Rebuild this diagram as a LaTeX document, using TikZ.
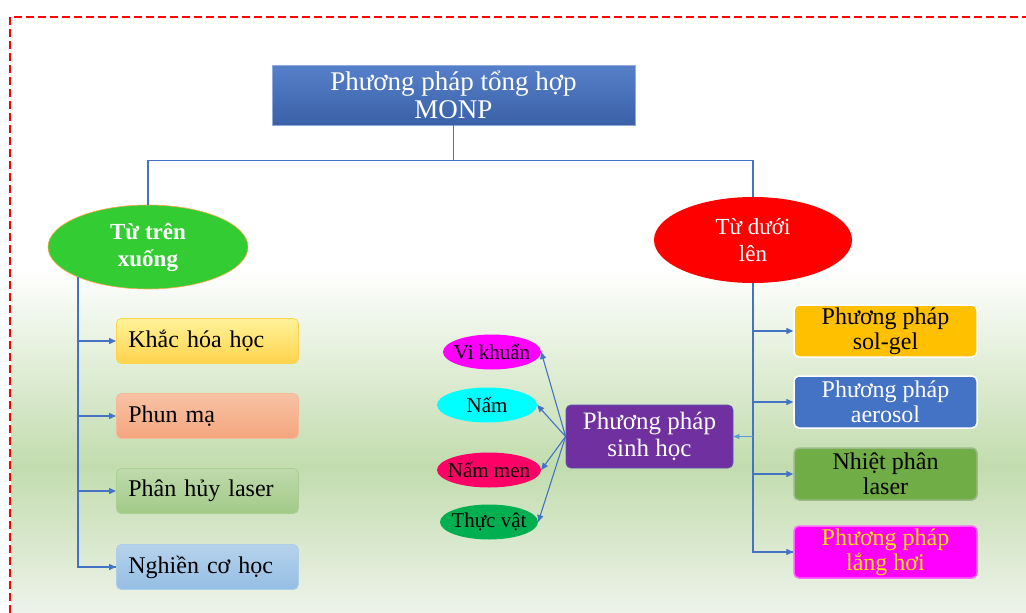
\documentclass[tikz,border=0pt]{standalone}
\usepackage{fontspec}
\setmainfont{Liberation Serif}
\usetikzlibrary{arrows.meta,positioning,shapes.geometric}
\definecolor{lanh}{RGB}{68,114,196}
\definecolor{lanhnhat}{RGB}{91,155,213}
\definecolor{xanhnen}{RGB}{194,220,174}
\definecolor{xanhday}{RGB}{238,243,234}
\definecolor{vang}{RGB}{255,192,0}
\definecolor{tim}{RGB}{112,48,160}
\definecolor{la}{RGB}{112,173,71}
\definecolor{xanhla}{RGB}{51,204,51}
\definecolor{hong}{RGB}{255,0,255}
\definecolor{lam}{RGB}{0,255,255}
\definecolor{do}{RGB}{255,0,102}
\definecolor{reu}{RGB}{0,176,80}
\definecolor{vangchu}{RGB}{255,230,0}
\definecolor{camtren}{RGB}{248,194,164}
\definecolor{camduoi}{RGB}{244,166,126}
\tikzset{
  ln/.style={draw=lanh, line width=1.4pt},
  mui/.style={ln, -{Triangle[length=7pt, width=6pt]}},
  muinho/.style={draw=lanhnhat, line width=0.8pt, -{Triangle[length=6pt, width=5pt]}},
  hop/.style={rectangle, rounded corners=5pt, align=center, inner sep=2pt,
    font=\fontsize{24}{25}\selectfont},
  hoptrai/.style={hop, anchor=west, text width=158pt, inner xsep=12pt,
    minimum height=45pt, align=left, line width=0.8pt},
  hopphai/.style={hop, minimum width=183pt, minimum height=52pt,
    draw=white, line width=1.5pt},
  elip/.style={ellipse, inner sep=0pt, align=center},
  elipnho/.style={elip, inner xsep=-8pt, minimum height=35pt, font=\fontsize{21}{22}\selectfont},
}
\begin{document}
\begin{tikzpicture}[x=1pt, y=-1pt]
  \useasboundingbox (0,0) rectangle (1026,613);
  % nen
  \shade[top color=white, bottom color=xanhnen] (11,268) rectangle (1026,466);
  \shade[top color=xanhnen, bottom color=xanhday] (11,466) rectangle (1026,613);
  \draw[red, line width=2pt, dash pattern=on 8pt off 4pt] (10,613) -- (10,17) -- (1026,17);
  % goc
  \node[rectangle, draw=lanh!60, line width=0.6pt, top color=lanh!90!white,
    bottom color=lanh!85!black, text=white, align=center, minimum width=363pt,
    minimum height=60pt, inner sep=0pt, font=\fontsize{27}{28}\selectfont]
    (monp) at (453.5,95) {Phương pháp tổng hợp\\MONP};
  \node[elip, fill=xanhla, draw=orange!70, line width=0.6pt,
    minimum width=200pt, minimum height=84pt, text=white,
    font=\bfseries\fontsize{23}{27}\selectfont] (tren) at (148,247) {Từ trên\\xuống};
  \node[elip, fill=red, minimum width=198pt, minimum height=86pt, text=white,
    font=\fontsize{23}{27}\selectfont] (duoi) at (753,240) {Từ dưới\\lên};
  \draw[ln] (monp.south) -- ++(0,35) -| (tren.north);
  \draw[ln] (monp.south) -- ++(0,35) -| (duoi.north);
  % tu tren xuong
  \node[hoptrai, draw=vang!70, top color=orange!25!yellow!40, bottom color=vang!70]
    (khac) at (116,341) {Khắc hóa học};
  \node[hoptrai, draw=camduoi!80, top color=camtren, bottom color=camduoi]
    (phun) at (116,416) {Phun mạ};
  \node[hoptrai, draw=la!60, top color=la!45, bottom color=la!65]
    (phanhuy) at (116,491) {Phân hủy laser};
  \node[hoptrai, draw=lanhnhat!50, top color=lanhnhat!45, bottom color=lanhnhat!65]
    (nghien) at (116,567) {Nghiền cơ học};
  \coordinate (truc) at (78,277);
  \draw[ln] (truc) |- (nghien.west);
  \foreach \n in {khac,phun,phanhuy,nghien}
    \draw[mui] (truc |- \n.west) -- (\n.west);
  % tu duoi len
  \node[hopphai, fill=vang] (solgel) at (885.5,331) {Phương pháp\\sol-gel};
  \node[hopphai, fill=lanh, text=white] (aerosol) at (885.5,402) {Phương pháp\\aerosol};
  \node[hopphai, fill=la, draw=la!80!black!60] (nhiet) at (885.5,474) {Nhiệt phân\\laser};
  \node[hopphai, fill=hong, draw=hong!60, text=vangchu] (hoi) at (885.5,552) {Phương pháp\\lắng hơi};
  \draw[ln] (duoi.south) |- (hoi.west);
  \foreach \n in {solgel,aerosol,nhiet,hoi}
    \draw[mui] (duoi.south |- \n.west) -- (\n.west);
  % sinh hoc
  \node[hop, fill=tim, draw=lanh!50!tim, line width=0.8pt, text=white,
    minimum width=167pt, minimum height=63pt, font=\fontsize{25}{27}\selectfont]
    (sinh) at (649.5,436.5) {Phương pháp\\sinh học};
  \draw[muinho] (duoi.south |- sinh.east) -- (sinh.east);
  \node[elipnho, fill=hong, minimum width=98pt] (vikhuan) at (492,352) {Vi khuẩn};
  \node[elipnho, fill=lam, minimum width=100pt] (nam) at (487,405) {Nấm};
  \node[elipnho, fill=do, minimum width=104pt] (nammen) at (489,470) {Nấm men};
  \node[elipnho, fill=reu, minimum width=98pt] (thucvat) at (489,522) {Thực vật};
  \foreach \n in {vikhuan,nam,nammen,thucvat}
    \draw[mui, line width=1.1pt] (sinh.west) -- (\n.east);
\end{tikzpicture}
\end{document}
